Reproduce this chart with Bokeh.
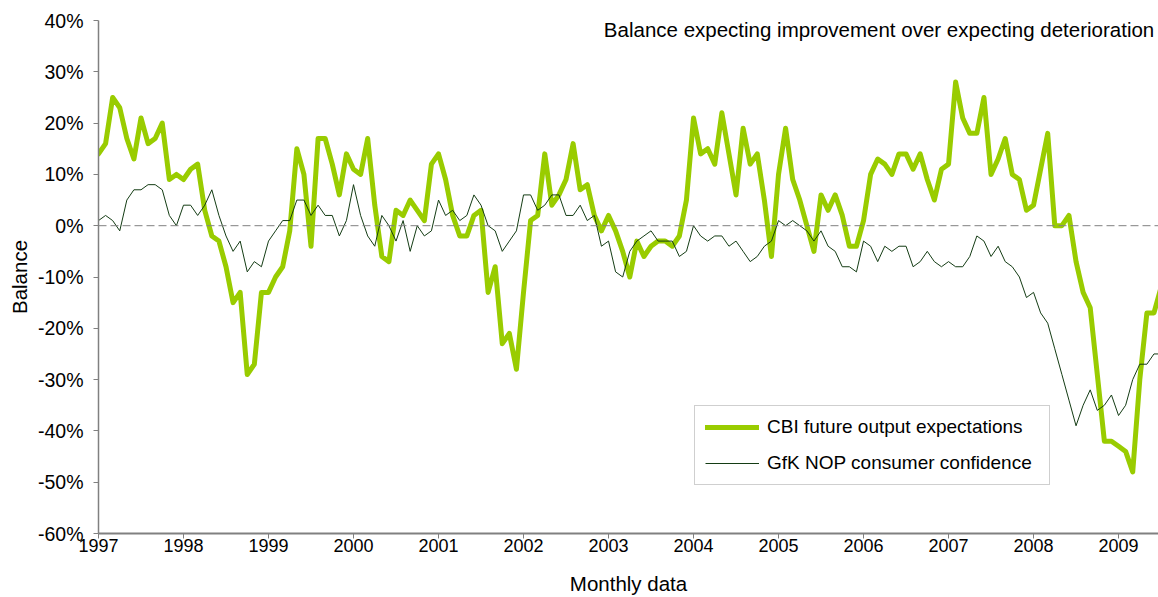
from bokeh.plotting import figure
from bokeh.models import Span, Legend, LegendItem, FixedTicker, PrintfTickFormatter, Label, Range1d
from bokeh.embed import file_html
from bokeh.resources import INLINE

start_year = 1997
year_ticks = list(range(1997, 2010))

# CBI future output expectations (% balance), monthly from Jan 1997
cbi = [14, 16, 25, 23, 17, 13, 21, 16, 17, 20, 9, 10,
       9, 11, 12, 3, -2, -3, -8, -15, -13, -29, -27, -13,
       -13, -10, -8, -1, 15, 10, -4, 17, 17, 12, 6, 14,
       11, 10, 17, 4, -6, -7, 3, 2, 5, 3, 1, 12,
       14, 9, 2, -2, -2, 2, 3, -13, -8, -23, -21, -28,
       -13, 1, 2, 14, 4, 6, 9, 16, 7, 8, 2, -1,
       2, -1, -5, -10, -3, -6, -4, -3, -3, -4, -2, 5,
       21, 14, 15, 12, 22, 14, 6, 19, 12, 14, 5, -6,
       10, 19, 9, 5, 0, -5, 6, 3, 6, 2, -4, -4,
       1, 10, 13, 12, 10, 14, 14, 11, 14, 9, 5, 11,
       12, 28, 21, 18, 18, 25, 10, 13, 17, 10, 9, 3,
       4, 11, 18, 0, 0, 2, -7, -13, -16, -29, -42, -42,
       -43, -44, -48, -30, -17, -17, -12]

# GfK NOP consumer confidence (% balance), monthly from Jan 1997
gfk = [1, 2, 1, -1, 5, 7, 7, 8, 8, 7, 2, 0,
       4, 4, 2, 4, 7, 2, -2, -5, -3, -9, -7, -8,
       -3, -1, 1, 1, 5, 5, 2, 4, 2, 2, -2, 1,
       8, 2, -2, -4, 2, 0, -3, 1, -5, 0, -2, -1,
       5, 2, 3, 1, 2, 6, 4, 0, -1, -5, -3, -1,
       6, 6, 3, 4, 6, 6, 2, 2, 4, 1, 2, -4,
       -3, -9, -10, -5, -3, -2, -1, -3, -3, -3, -6, -5,
       0, -2, -3, -2, -2, -4, -3, -5, -7, -6, -4, -3,
       1, 0, 1, 0, -1, -3, -1, -4, -5, -8, -8, -9,
       -3, -4, -7, -4, -5, -4, -4, -8, -7, -5, -7, -8,
       -7, -8, -8, -6, -2, -3, -6, -4, -7, -8, -10, -14,
       -13, -17, -19, -24, -29, -34, -39, -35, -32, -36, -35, -33,
       -37, -35, -30, -27, -27, -25, -25]

months = [start_year + i / 12 for i in range(len(cbi))]

FONT = "Liberation Sans"
AXIS_GREY = "#808080"
CBI_COLOR = "#99CC00"
GFK_COLOR = "#143C14"

p = figure(width=1158, height=597, output_backend="svg", toolbar_location=None,
           x_range=Range1d(1997, 2009.47), y_range=Range1d(-60, 40),
           min_border_left=98, min_border_right=0, min_border_top=20, min_border_bottom=61)

p.xgrid.visible = False
p.ygrid.visible = False
p.outline_line_color = None
p.background_fill_color = "white"
p.border_fill_color = "white"

zero = Span(location=0, dimension="width", line_color=AXIS_GREY, line_width=1, line_dash="8 4")
p.add_layout(zero)

r_cbi = p.line(months, cbi, line_color=CBI_COLOR, line_width=5, line_join="round", line_cap="round")
r_gfk = p.line(months, gfk, line_color=GFK_COLOR, line_width=1)

# axes
p.xaxis.ticker = FixedTicker(ticks=year_ticks)
p.xaxis.formatter = PrintfTickFormatter(format="%d")
p.yaxis.ticker = FixedTicker(ticks=list(range(-60, 41, 10)))
p.yaxis.formatter = PrintfTickFormatter(format="%d%%")

for ax in (p.xaxis[0], p.yaxis[0]):
    ax.axis_line_color = AXIS_GREY
    ax.major_tick_line_color = AXIS_GREY
    ax.minor_tick_line_color = None
    ax.major_tick_in = 0
    ax.major_tick_out = 5
    ax.major_label_text_font = FONT
    ax.major_label_text_color = "#000000"
    ax.axis_label_text_font = FONT
    ax.axis_label_text_font_size = "20.5px"
    ax.axis_label_text_font_style = "normal"
    ax.axis_label_text_color = "#000000"

p.xaxis.major_label_text_font_size = "18px"
p.yaxis.major_label_text_font_size = "19.5px"
p.xaxis.axis_line_width = 2
p.yaxis.axis_line_width = 1.5
p.xaxis.axis_label = "Monthly data"
p.yaxis.axis_label = "Balance"
p.xaxis.major_label_standoff = 0
p.xaxis.axis_label_standoff = 17
p.yaxis.major_label_standoff = 10
p.yaxis.axis_label_standoff = 4

title = Label(x=2009.42, y=38.3, text="Balance expecting improvement over expecting deterioration",
              text_align="right", text_baseline="middle", text_font=FONT,
              text_font_size="20.5px", text_color="#000000")
p.add_layout(title)

legend = Legend(items=[LegendItem(label="CBI future output expectations", renderers=[r_cbi]),
                       LegendItem(label="GfK NOP consumer confidence", renderers=[r_gfk])],
                location=(596, 48), orientation="vertical",
                label_text_font=FONT, label_text_font_size="19px", label_text_color="#000000",
                glyph_width=54, glyph_height=20, label_height=20, label_width=272, label_standoff=8,
                spacing=14, padding=10, margin=0,
                border_line_color="#A0A0A0", border_line_width=1,
                background_fill_color="white", background_fill_alpha=1)
p.add_layout(legend)

open("out.html", "w").write(file_html(p, INLINE))
